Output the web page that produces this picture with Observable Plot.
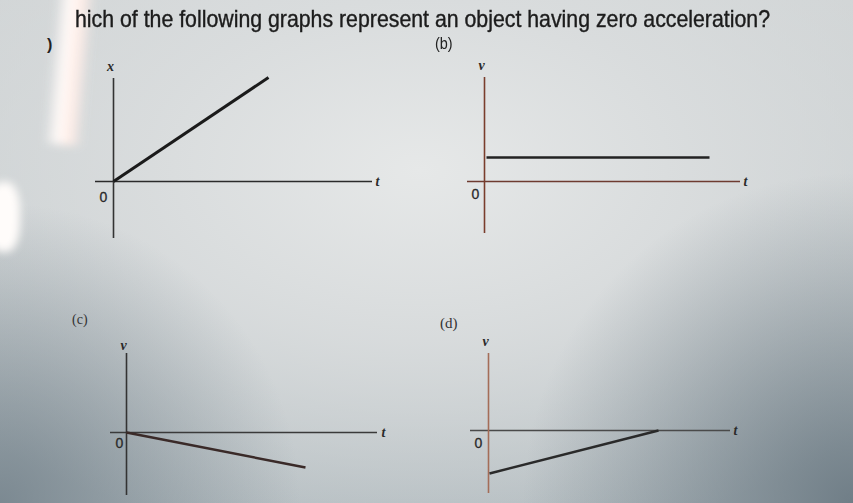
<!DOCTYPE html>
<html><head><meta charset="utf-8">
<script src="https://cdn.jsdelivr.net/npm/d3@7"></script>
<script src="https://cdn.jsdelivr.net/npm/@observablehq/plot@0.6"></script>
<style>
html,body{margin:0;padding:0;}
body{width:853px;height:503px;overflow:hidden;position:relative;
 background:
  radial-gradient(circle 300px at 0px 503px, rgba(105,120,130,0.75), rgba(105,120,130,0) 100%),
  radial-gradient(circle 330px at 853px 503px, rgba(100,115,125,0.85), rgba(100,115,125,0) 100%),
  radial-gradient(ellipse 620px 380px at 420px 170px, rgba(230,232,232,1) 0%, rgba(218,221,222,0.9) 45%, rgba(190,198,201,0) 100%),
  linear-gradient(180deg,#cfd3d4 0%,#c6ccce 55%,#b3bcc0 100%);
 font-family:"Liberation Sans",Arial,sans-serif;}
.shade{position:absolute;pointer-events:none;}
.lbl{position:absolute;color:#222;font-family:"Liberation Serif",serif;font-size:15px;}
#title{position:absolute;left:75px;top:5px;font-family:"Liberation Sans",sans-serif;font-size:24px;color:#1c1c1c;white-space:nowrap;transform-origin:0 0;-webkit-text-stroke:0.4px #1c1c1c;}
.panel{position:absolute;}
</style></head>
<body>
<div class="shade" style="left:50px;top:-20px;width:40px;height:165px;background:linear-gradient(90deg,rgba(255,245,240,0),rgba(255,250,248,1) 35%,rgba(255,238,232,1) 65%,rgba(255,245,240,0));filter:blur(4px);transform:rotate(5deg);"></div>
<div class="shade" style="left:-12px;top:182px;width:32px;height:70px;background:rgba(255,252,250,1);filter:blur(4px);border-radius:40%;"></div>
<div id="title">hich of the following graphs represent an object having zero acceleration?</div>
<div class="lbl" style="left:47px;top:36px;font-family:'Liberation Sans',sans-serif;font-weight:bold;font-size:16px;">)</div>
<div class="lbl" style="left:435px;top:34px;font-family:'Liberation Sans',sans-serif;font-size:17px;transform:scaleX(0.85);transform-origin:0 0;">(b)</div>
<div class="lbl" style="left:72px;top:312px;font-size:14px;color:#333;">(c)</div>
<div class="lbl" style="left:440px;top:315px;font-size:15px;color:#333;">(d)</div>
<script>
// Panel (a): x–t graph, straight line through origin
const aLineT = [0, 15.5];
const aLineX = [0, 10.4];
const aTAxis = [-1.8, 25.9];
const aXAxis = [-5.7, 10.3];
// Panel (b): v–t graph, constant velocity
const bLineT = [0.2, 22.5];
const bLineV = [2.4, 2.4];
const bTAxis = [-1.7, 25.6];
const bVAxis = [-5.2, 10.4];
// Panel (c): v–t graph, decreasing from zero
const cLineT = [0, 17.9];
const cLineV = [0, -3.5];
const cTAxis = [-1.6, 25.1];
const cVAxis = [-6.3, 7.9];
// Panel (d): v–t graph, increasing from negative to zero
const dLineT = [0.1, 17];
const dLineV = [-4.3, 0];
const dTAxis = [-1.8, 24.2];
const dVAxis = [-6.3, 7.7];
// Axis labels
const vertLabels = ["x", "v", "v", "v"];
const horizLabel = "t";
const originLabel = "0";

function panel(opts){
  const {lineT, lineY, tAxis, yAxis, yLabel, left, top, hColor, vColor, lineColor, lineW, yLabelV, tLabelT, zeroT, zeroV} = opts;
  const pts = lineT.map((t,i)=>({t, y: lineY[i]}));
  const svg = Plot.plot({
    width: 310, height: 200, margin: 0,
    x: {domain: [-3, 28], axis: null},
    y: {domain: [-7, 13], axis: null},
    style: {background: "transparent", overflow: "visible"},
    marks: [
      Plot.ruleY([0], {x1: tAxis[0], x2: tAxis[1], stroke: hColor, strokeWidth: 1.6}),
      Plot.ruleX([0], {y1: yAxis[0], y2: yAxis[1], stroke: vColor, strokeWidth: 1.6}),
      Plot.line(pts, {x: "t", y: "y", stroke: lineColor, strokeWidth: lineW, strokeLinecap: "butt"}),
      Plot.text([yLabel], {x: -0.3, y: yLabelV, text: d=>d, fontFamily: "Liberation Serif", fontStyle: "italic", fontWeight: "bold", fontSize: 14, fill: "#2a2a2a"}),
      Plot.text([horizLabel], {x: tLabelT, y: 0, text: d=>d, fontFamily: "Liberation Serif", fontStyle: "italic", fontWeight: "bold", fontSize: 14, fill: "#2a2a2a"}),
      Plot.text([originLabel], {x: zeroT, y: zeroV, text: d=>d, fontFamily: "Liberation Sans", fontSize: 14, fill: "#2a2a2a", stroke: "#2a2a2a", strokeWidth: 0.3})
    ]
  });
  svg.classList.add("panel");
  svg.style.left = left + "px";
  svg.style.top = top + "px";
  svg.style.position = "absolute";
  document.body.appendChild(svg);
}

panel({lineT: aLineT, lineY: aLineX, tAxis: aTAxis, yAxis: aXAxis, yLabel: vertLabels[0], left: 83, top: 51,
  hColor: "#2b2b2b", vColor: "#333", lineColor: "#1b1b1b", lineW: 3, yLabelV: 11.5, tLabelT: 26.4, zeroT: -1, zeroV: -1.6});
panel({lineT: bLineT, lineY: bLineV, tAxis: bTAxis, yAxis: bVAxis, yLabel: vertLabels[1], left: 454, top: 51,
  hColor: "#6e3b30", vColor: "#7a3d2c", lineColor: "#222", lineW: 2.6, yLabelV: 11.6, tLabelT: 26.1, zeroT: -0.9, zeroV: -1.3});
panel({lineT: cLineT, lineY: cLineV, tAxis: cTAxis, yAxis: cVAxis, yLabel: vertLabels[2], left: 96, top: 302,
  hColor: "#3a3a3a", vColor: "#333", lineColor: "#3a2a28", lineW: 2.5, yLabelV: 8.7, tLabelT: 25.7, zeroT: -0.7, zeroV: -1.1});
panel({lineT: dLineT, lineY: dLineV, tAxis: dTAxis, yAxis: dVAxis, yLabel: vertLabels[3], left: 458, top: 300,
  hColor: "#4a4a4a", vColor: "#a46d58", lineColor: "#2a2a2a", lineW: 2.5, yLabelV: 8.9, tLabelT: 24.7, zeroT: -1, zeroV: -1.3});

// fit title width to the reference (about 695px wide)
const title = document.getElementById("title");
const w = title.getBoundingClientRect().width;
title.style.transform = `scaleX(${695 / w})`;
</script>
</body></html>
